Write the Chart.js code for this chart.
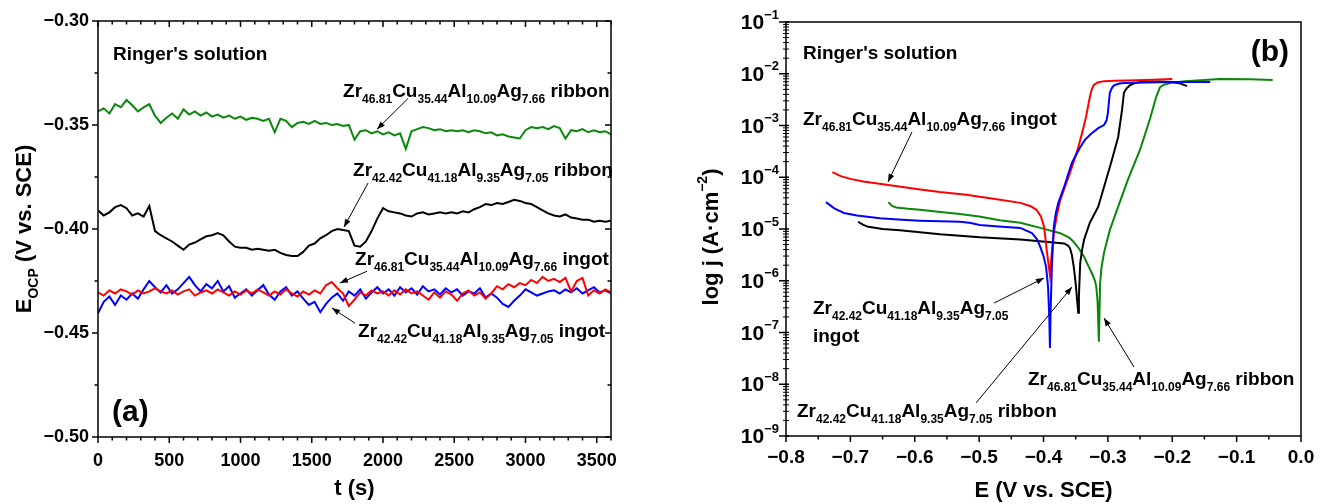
<!DOCTYPE html>
<html>
<head>
<meta charset="utf-8">
<script src="https://cdn.jsdelivr.net/npm/chart.js@4.4.1/dist/chart.umd.min.js"></script>
<style>
html, body { margin: 0; padding: 0; background: #fff; }
#wrap { position: relative; width: 1324px; height: 504px; overflow: hidden; }
canvas { position: absolute; top: 0; }
#ocp { left: 0; }
#pol { left: 662px; }
</style>
</head>
<body>
<div id="wrap">
  <canvas id="ocp" width="662" height="504"></canvas>
  <canvas id="pol" width="662" height="504"></canvas>
</div>
<script>
// ---- (a) open circuit potential vs time ----
var timeS = [0, 40, 80, 120, 160, 200, 240, 280, 320, 360,
  400, 440, 480, 520, 560, 600, 640, 680, 720, 760,
  800, 840, 880, 920, 960, 1000, 1040, 1080, 1120, 1160,
  1200, 1240, 1280, 1320, 1360, 1400, 1440, 1480, 1520, 1560,
  1600, 1640, 1680, 1720, 1760, 1800, 1840, 1880, 1920, 1960,
  2000, 2040, 2080, 2120, 2160, 2200, 2240, 2280, 2320, 2360,
  2400, 2440, 2480, 2520, 2560, 2600, 2640, 2680, 2720, 2760,
  2800, 2840, 2880, 2920, 2960, 3000, 3040, 3080, 3120, 3160,
  3200, 3240, 3280, 3320, 3360, 3400, 3440, 3480, 3520, 3560, 3600];

// Zr46.81Cu35.44Al10.09Ag7.66 ribbon (green)
var ocpRibbon1 = [-0.3435, -0.3420, -0.3445, -0.3400, -0.3415, -0.3380, -0.3405, -0.3435, -0.3415, -0.3400,
  -0.3455, -0.3490, -0.3465, -0.3445, -0.3470, -0.3425, -0.3450, -0.3435, -0.3455, -0.3440,
  -0.3460, -0.3450, -0.3465, -0.3455, -0.3470, -0.3460, -0.3475, -0.3465, -0.3470, -0.3480,
  -0.3470, -0.3535, -0.3470, -0.3480, -0.3510, -0.3490, -0.3485, -0.3495, -0.3480, -0.3495,
  -0.3490, -0.3500, -0.3495, -0.3505, -0.3500, -0.3570, -0.3530, -0.3525, -0.3540, -0.3530,
  -0.3545, -0.3535, -0.3550, -0.3540, -0.3615, -0.3530, -0.3520, -0.3510, -0.3515, -0.3525,
  -0.3520, -0.3530, -0.3525, -0.3530, -0.3525, -0.3535, -0.3525, -0.3530, -0.3540, -0.3535,
  -0.3550, -0.3545, -0.3555, -0.3560, -0.3565, -0.3525, -0.3510, -0.3515, -0.3510, -0.3520,
  -0.3505, -0.3515, -0.3565, -0.3525, -0.3530, -0.3520, -0.3535, -0.3525, -0.3535, -0.3530, -0.3545];

// Zr42.42Cu41.18Al9.35Ag7.05 ribbon (black)
var ocpRibbon2 = [-0.3910, -0.3935, -0.3920, -0.3895, -0.3885, -0.3900, -0.3935, -0.3925, -0.3940, -0.3890,
  -0.4010, -0.4030, -0.4045, -0.4060, -0.4080, -0.4100, -0.4075, -0.4065, -0.4050, -0.4035,
  -0.4030, -0.4020, -0.4030, -0.4060, -0.4085, -0.4090, -0.4090, -0.4100, -0.4095, -0.4100,
  -0.4105, -0.4100, -0.4115, -0.4125, -0.4130, -0.4130, -0.4110, -0.4080, -0.4070, -0.4045,
  -0.4030, -0.4010, -0.4000, -0.4005, -0.4010, -0.4080, -0.4085, -0.4060, -0.4010, -0.3950,
  -0.3900, -0.3915, -0.3920, -0.3925, -0.3935, -0.3940, -0.3925, -0.3920, -0.3930, -0.3925,
  -0.3920, -0.3925, -0.3920, -0.3925, -0.3915, -0.3920, -0.3905, -0.3895, -0.3880, -0.3885,
  -0.3875, -0.3880, -0.3870, -0.3860, -0.3865, -0.3875, -0.3880, -0.3895, -0.3910, -0.3925,
  -0.3935, -0.3940, -0.3930, -0.3945, -0.3950, -0.3955, -0.3955, -0.3965, -0.3960, -0.3965, -0.3960];

// Zr46.81Cu35.44Al10.09Ag7.66 ingot (red)
var ocpIngot1 = [-0.4305, -0.4320, -0.4295, -0.4310, -0.4290, -0.4300, -0.4315, -0.4295, -0.4310, -0.4300,
  -0.4285, -0.4300, -0.4310, -0.4295, -0.4315, -0.4300, -0.4290, -0.4320, -0.4305, -0.4295,
  -0.4310, -0.4290, -0.4305, -0.4320, -0.4300, -0.4315, -0.4295, -0.4310, -0.4290, -0.4305,
  -0.4320, -0.4300, -0.4315, -0.4290, -0.4310, -0.4325, -0.4300, -0.4315, -0.4295, -0.4310,
  -0.4270, -0.4255, -0.4285, -0.4310, -0.4370, -0.4340, -0.4305, -0.4320, -0.4295, -0.4310,
  -0.4300, -0.4320, -0.4295, -0.4315, -0.4290, -0.4310, -0.4300, -0.4320, -0.4340, -0.4305,
  -0.4330, -0.4300, -0.4315, -0.4345, -0.4310, -0.4295, -0.4320, -0.4305, -0.4335, -0.4310,
  -0.4275, -0.4290, -0.4265, -0.4280, -0.4260, -0.4270, -0.4245, -0.4260, -0.4230, -0.4250,
  -0.4240, -0.4255, -0.4235, -0.4300, -0.4250, -0.4235, -0.4320, -0.4295, -0.4310, -0.4290, -0.4305];

// Zr42.42Cu41.18Al9.35Ag7.05 ingot (blue)
var ocpIngot2 = [-0.4405, -0.4350, -0.4325, -0.4365, -0.4320, -0.4340, -0.4310, -0.4335, -0.4290, -0.4250,
  -0.4280, -0.4305, -0.4270, -0.4310, -0.4290, -0.4260, -0.4230, -0.4270, -0.4300, -0.4265,
  -0.4285, -0.4250, -0.4300, -0.4275, -0.4330, -0.4310, -0.4290, -0.4320, -0.4295, -0.4270,
  -0.4315, -0.4340, -0.4300, -0.4280, -0.4320, -0.4300, -0.4335, -0.4365, -0.4350, -0.4400,
  -0.4360, -0.4330, -0.4310, -0.4345, -0.4300, -0.4320, -0.4290, -0.4335, -0.4305, -0.4280,
  -0.4310, -0.4290, -0.4320, -0.4280, -0.4305, -0.4285, -0.4315, -0.4275, -0.4300, -0.4290,
  -0.4315, -0.4285, -0.4305, -0.4290, -0.4320, -0.4300, -0.4310, -0.4285, -0.4330, -0.4310,
  -0.4330, -0.4360, -0.4375, -0.4345, -0.4320, -0.4290, -0.4305, -0.4320, -0.4310, -0.4300,
  -0.4295, -0.4310, -0.4290, -0.4305, -0.4285, -0.4310, -0.4295, -0.4280, -0.4305, -0.4295, -0.4310];

var ocpXTicks = [0, 500, 1000, 1500, 2000, 2500, 3000, 3500];
var ocpYTicks = [-0.30, -0.35, -0.40, -0.45, -0.50];

// ---- (b) potentiodynamic polarization ----
var polE1 = [-0.728, -0.715, -0.700, -0.680, -0.641, -0.600, -0.561, -0.520, -0.499, -0.470, -0.436, -0.420, -0.411, -0.404, -0.399, -0.395, -0.392, -0.390, -0.388, -0.386, -0.384, -0.379, -0.374, -0.366, -0.359, -0.352, -0.346, -0.340, -0.334, -0.328, -0.325, -0.322, -0.316, -0.306, -0.290, -0.270, -0.240, -0.200];
var polJ1 = [1.26e-4, 1.05e-4, 9.3e-5, 8.3e-5, 7.1e-5, 6.0e-5, 5.2e-5, 4.6e-5, 4.2e-5, 3.7e-5, 3.2e-5, 2.75e-5, 2.35e-5, 1.74e-5, 1.10e-5, 3.9e-6, 2.0e-6, 1.26e-6, 2.5e-6, 5.0e-6, 8.3e-6, 1.9e-5, 3.6e-5, 6.9e-5, 1.2e-4, 2.2e-4, 3.8e-4, 7.2e-4, 1.45e-3, 3.55e-3, 5.0e-3, 6.0e-3, 6.8e-3, 7.2e-3, 7.3e-3, 7.4e-3, 7.6e-3, 7.9e-3];

var polE2 = [-0.738, -0.725, -0.710, -0.690, -0.654, -0.620, -0.592, -0.560, -0.530, -0.515, -0.499, -0.470, -0.436, -0.418, -0.410, -0.405, -0.400, -0.396, -0.393, -0.391, -0.390, -0.389, -0.387, -0.384, -0.381, -0.377, -0.368, -0.356, -0.343, -0.335, -0.325, -0.315, -0.306, -0.302, -0.300, -0.297, -0.293, -0.290, -0.282, -0.275, -0.240, -0.200, -0.141];
var polJ2 = [3.3e-5, 2.5e-5, 2.04e-5, 1.82e-5, 1.62e-5, 1.51e-5, 1.45e-5, 1.41e-5, 1.38e-5, 1.32e-5, 1.20e-5, 1.12e-5, 1.05e-5, 8.3e-6, 6.3e-6, 4.5e-6, 3.0e-6, 1.86e-6, 7.9e-7, 2.0e-7, 5.0e-8, 2.5e-7, 1.86e-6, 1.10e-5, 2.0e-5, 3.2e-5, 6.5e-5, 1.9e-4, 3.8e-4, 5.4e-4, 7.1e-4, 8.9e-4, 1.02e-3, 1.26e-3, 1.74e-3, 4.3e-3, 5.5e-3, 6.0e-3, 6.5e-3, 6.6e-3, 6.8e-3, 6.9e-3, 6.9e-3];

var polE3 = [-0.688, -0.680, -0.672, -0.650, -0.623, -0.561, -0.499, -0.436, -0.393, -0.368, -0.362, -0.359, -0.356, -0.353, -0.350, -0.348, -0.346, -0.345, -0.343, -0.340, -0.337, -0.328, -0.315, -0.306, -0.294, -0.284, -0.278, -0.275, -0.271, -0.266, -0.258, -0.250, -0.220, -0.200, -0.188, -0.177];
var polJ3 = [1.38e-5, 1.20e-5, 1.10e-5, 1.0e-5, 9.5e-6, 7.9e-6, 6.9e-6, 6.3e-6, 5.6e-6, 5.25e-6, 4.8e-6, 4.3e-6, 3.2e-6, 1.86e-6, 8.9e-7, 4.5e-7, 2.4e-7, 5.0e-7, 2.2e-6, 4.0e-6, 6.2e-6, 1.32e-5, 2.7e-5, 6.5e-5, 2.1e-4, 6.0e-4, 2.0e-3, 4.3e-3, 5.2e-3, 6.0e-3, 6.6e-3, 6.9e-3, 7.1e-3, 6.9e-3, 6.5e-3, 5.75e-3];

var polE4 = [-0.641, -0.635, -0.629, -0.610, -0.592, -0.560, -0.530, -0.500, -0.468, -0.436, -0.405, -0.374, -0.360, -0.353, -0.345, -0.337, -0.330, -0.325, -0.320, -0.318, -0.316, -0.314, -0.313, -0.312, -0.310, -0.306, -0.297, -0.284, -0.269, -0.250, -0.235, -0.225, -0.219, -0.212, -0.203, -0.180, -0.126, -0.080, -0.044];
var polJ4 = [3.3e-5, 2.8e-5, 2.6e-5, 2.45e-5, 2.35e-5, 2.14e-5, 1.95e-5, 1.74e-5, 1.48e-5, 1.32e-5, 1.05e-5, 8.3e-6, 6.8e-6, 5.6e-6, 4.2e-6, 2.9e-6, 1.9e-6, 1.41e-6, 1.0e-6, 7.6e-7, 4.0e-7, 6.6e-8, 2.5e-7, 9.1e-7, 1.78e-6, 3.5e-6, 9.5e-6, 2.7e-5, 8.9e-5, 3.4e-4, 1.29e-3, 3.55e-3, 5.5e-3, 6.2e-3, 6.6e-3, 7.2e-3, 7.9e-3, 7.8e-3, 7.6e-3];

var polXTicks = [-0.8, -0.7, -0.6, -0.5, -0.4, -0.3, -0.2, -0.1, 0.0];
var polYExp = [-1, -2, -3, -4, -5, -6, -7, -8, -9];

// labels + arrows, positioned in data units
var ocpNotes = [
  { text: 'Zr_{46.81}Cu_{35.44}Al_{10.09}Ag_{7.66} ribbon', at: [1720, -0.3366], from: [2176, -0.3372], to: [1958, -0.3520] },
  { text: 'Zr_{42.42}Cu_{41.18}Al_{9.35}Ag_{7.05} ribbon', at: [1790, -0.3746], from: [1895, -0.3779], to: [1726, -0.3991] },
  { text: 'Zr_{46.81}Cu_{35.44}Al_{10.09}Ag_{7.66} ingot', at: [1804, -0.4174], from: [1888, -0.4203], to: [1698, -0.4260] },
  { text: 'Zr_{42.42}Cu_{41.18}Al_{9.35}Ag_{7.05} ingot', at: [1825, -0.4520], from: [1804, -0.4453], to: [1642, -0.4380] }
];
var polNotes = [
  { text: 'Zr_{46.81}Cu_{35.44}Al_{10.09}Ag_{7.66} ingot', at: [-0.7736, 1.02e-3], from: [-0.6043, 7.5e-4], to: [-0.6416, 8.1e-5] },
  { text: 'Zr_{42.42}Cu_{41.18}Al_{9.35}Ag_{7.05}', at: [-0.7581, 2.28e-7], from: [-0.4769, 3.7e-7], to: [-0.3992, 1.13e-6] },
  { text: 'ingot', at: [-0.7581, 6.5e-8] },
  { text: 'Zr_{42.42}Cu_{41.18}Al_{9.35}Ag_{7.05} ribbon', at: [-0.7829, 2.33e-9], from: [-0.5048, 4.35e-9], to: [-0.3557, 7.6e-7] },
  { text: 'Zr_{46.81}Cu_{35.44}Al_{10.09}Ag_{7.66} ribbon', at: [-0.4241, 9.7e-9], from: [-0.2594, 2.15e-8], to: [-0.3060, 1.9e-7] }
];

var FONT = '"Liberation Sans", Arial, Helvetica, sans-serif';
var GREEN = '#0b870b', BLACK = '#000000', RED = '#ff0000', BLUE = '#0000ff';

function parseRich(s) {
  var out = [], re = /_\{([^}]*)\}|\^\{([^}]*)\}|[^_^]+/g, m;
  while ((m = re.exec(s))) {
    if (m[1] !== undefined) out.push([m[1], 1]);
    else if (m[2] !== undefined) out.push([m[2], 2]);
    else out.push([m[0], 0]);
  }
  return out;
}

// draw text with subscripts (_{}) and superscripts (^{})
function drawRich(ctx, s, x, y, size, small, align) {
  var segs = parseRich(s), w = 0;
  segs.forEach(function (g) {
    ctx.font = 'bold ' + (g[1] ? small : size) + 'px ' + FONT;
    w += ctx.measureText(g[0]).width;
  });
  if (align === 'center') x -= w / 2;
  else if (align === 'right') x -= w;
  ctx.textAlign = 'left';
  ctx.textBaseline = 'alphabetic';
  segs.forEach(function (g) {
    ctx.font = 'bold ' + (g[1] ? small : size) + 'px ' + FONT;
    var dy = g[1] === 1 ? size * 0.33 : (g[1] === 2 ? -size * 0.5 : 0);
    ctx.fillText(g[0], x, y + dy);
    x += ctx.measureText(g[0]).width;
  });
}

function seg(ctx, x1, y1, x2, y2) {
  ctx.beginPath(); ctx.moveTo(x1, y1); ctx.lineTo(x2, y2); ctx.stroke();
}

function arrow(ctx, x1, y1, x2, y2) {
  ctx.lineWidth = 1;
  seg(ctx, x1, y1, x2, y2);
  var a = Math.atan2(y2 - y1, x2 - x1), L = 8, W = 3;
  ctx.beginPath();
  ctx.moveTo(x2, y2);
  ctx.lineTo(x2 - L * Math.cos(a) + W * Math.sin(a), y2 - L * Math.sin(a) - W * Math.cos(a));
  ctx.lineTo(x2 - L * Math.cos(a) - W * Math.sin(a), y2 - L * Math.sin(a) + W * Math.cos(a));
  ctx.closePath();
  ctx.fill();
}

function drawNotes(chart, notes) {
  var ctx = chart.ctx, xs = chart.scales.x, ys = chart.scales.y;
  notes.forEach(function (n) {
    drawRich(ctx, n.text, xs.getPixelForValue(n.at[0]), ys.getPixelForValue(n.at[1]), 19, 12, 'left');
    if (n.from) {
      arrow(ctx, xs.getPixelForValue(n.from[0]), ys.getPixelForValue(n.from[1]),
        xs.getPixelForValue(n.to[0]), ys.getPixelForValue(n.to[1]));
    }
  });
}

function line(xs, ys, color) {
  return {
    data: xs.map(function (x, i) { return { x: x, y: ys[i] }; }),
    borderColor: color, borderWidth: 2, pointRadius: 0, fill: false, tension: 0
  };
}

function minus(s) { return s.replace('-', '\u2212'); }

var ocpDecor = {
  id: 'ocpDecor',
  afterDraw: function (chart) {
    var ctx = chart.ctx, a = chart.chartArea, xs = chart.scales.x, ys = chart.scales.y;
    ctx.save();
    ctx.strokeStyle = '#000'; ctx.fillStyle = '#000';
    ctx.lineWidth = 1.5;
    ctx.strokeRect(a.left, a.top, a.right - a.left, a.bottom - a.top);
    var t, v, px, L;
    for (t = 0; t <= 3600; t += 100) {
      px = xs.getPixelForValue(t);
      L = (t % 500 === 0) ? 6 : 3.5;
      seg(ctx, px, a.bottom, px, a.bottom + L);
      seg(ctx, px, a.top, px, a.top + L);
    }
    for (v = 0; v <= 8; v++) {
      px = ys.getPixelForValue(-0.30 - v * 0.025);
      L = (v % 2 === 0) ? 6 : 3.5;
      seg(ctx, a.left - L, px, a.left, px);
      seg(ctx, a.right - L, px, a.right, px);
    }
    ctx.font = 'bold 18px ' + FONT;
    ctx.textAlign = 'right'; ctx.textBaseline = 'middle';
    ocpYTicks.forEach(function (v) {
      ctx.fillText(minus(v.toFixed(2)), a.left - 9, ys.getPixelForValue(v));
    });
    ctx.textAlign = 'center';
    ocpXTicks.forEach(function (t) {
      ctx.fillText(String(t), xs.getPixelForValue(t), a.bottom + 24);
    });
    ctx.font = 'bold 22px ' + FONT;
    ctx.textBaseline = 'alphabetic';
    ctx.fillText('t (s)', (a.left + a.right) / 2, 495);
    ctx.save();
    ctx.translate(31, (a.top + a.bottom) / 2);
    ctx.rotate(-Math.PI / 2);
    drawRich(ctx, 'E_{OCP} (V vs. SCE)', 0, 0, 22, 14, 'center');
    ctx.restore();
    drawRich(ctx, "Ringer's solution", a.left + 15, 60, 19, 12, 'left');
    ctx.font = 'bold 30px ' + FONT;
    ctx.textAlign = 'left';
    ctx.fillText('(a)', a.left + 14, 421);
    drawNotes(chart, ocpNotes);
    ctx.restore();
  }
};

var polDecor = {
  id: 'polDecor',
  afterDraw: function (chart) {
    var ctx = chart.ctx, a = chart.chartArea, xs = chart.scales.x, ys = chart.scales.y;
    ctx.save();
    ctx.strokeStyle = '#000'; ctx.fillStyle = '#000';
    ctx.lineWidth = 1.5;
    ctx.strokeRect(a.left, a.top, a.right - a.left, a.bottom - a.top);
    ctx.lineWidth = 1;
    var e, d, k, py, px;
    for (d = -9; d < -1; d++) {
      for (k = 2; k <= 9; k++) {
        py = ys.getPixelForValue(k * Math.pow(10, d));
        seg(ctx, a.left - 3, py, a.left + 3, py);
      }
    }
    ctx.lineWidth = 1.5;
    polYExp.forEach(function (d) {
      py = ys.getPixelForValue(Math.pow(10, d));
      seg(ctx, a.left - 7, py, a.left + 3, py);
      drawRich(ctx, '10^{\u2212' + (-d) + '}', a.left - 7, py + 7, 21, 13, 'right');
    });
    for (e = 0; e <= 16; e++) {
      px = xs.getPixelForValue(-0.8 + e * 0.05);
      seg(ctx, px, a.bottom, px, a.bottom + (e % 2 === 0 ? 6 : 3.5));
    }
    ctx.font = 'bold 19px ' + FONT;
    ctx.textAlign = 'center'; ctx.textBaseline = 'middle';
    polXTicks.forEach(function (v) {
      ctx.fillText(minus(v.toFixed(1)), xs.getPixelForValue(v), a.bottom + 22);
    });
    ctx.font = 'bold 22px ' + FONT;
    ctx.textBaseline = 'alphabetic';
    ctx.fillText('E (V vs. SCE)', (a.left + a.right) / 2, 497);
    ctx.save();
    ctx.translate(56, (a.top + a.bottom) / 2 + 8);
    ctx.rotate(-Math.PI / 2);
    drawRich(ctx, 'log j (A\u00b7cm^{\u22122})', 0, 0, 22, 14, 'center');
    ctx.restore();
    drawRich(ctx, "Ringer's solution", a.left + 17, 59, 19, 12, 'left');
    ctx.font = 'bold 30px ' + FONT;
    ctx.textAlign = 'right';
    ctx.fillText('(b)', a.right - 12, 61);
    drawNotes(chart, polNotes);
    ctx.restore();
  }
};

function hiddenScales(xMin, xMax, yType, yMin, yMax) {
  return {
    x: { type: 'linear', min: xMin, max: xMax, display: false },
    y: { type: yType, min: yMin, max: yMax, display: false }
  };
}

new Chart(document.getElementById('ocp'), {
  type: 'line',
  data: {
    datasets: [
      line(timeS, ocpIngot1, RED),
      line(timeS, ocpIngot2, BLUE),
      line(timeS, ocpRibbon2, BLACK),
      line(timeS, ocpRibbon1, GREEN)
    ]
  },
  options: {
    responsive: false, animation: false, events: [],
    layout: { padding: { left: 98, right: 51, top: 21, bottom: 67 } },
    plugins: { legend: { display: false }, tooltip: { enabled: false } },
    scales: hiddenScales(0, 3600, 'linear', -0.5, -0.3)
  },
  plugins: [ocpDecor]
});

new Chart(document.getElementById('pol'), {
  type: 'line',
  data: {
    datasets: [
      line(polE2, polJ2, BLUE),
      line(polE1, polJ1, RED),
      line(polE3, polJ3, BLACK),
      line(polE4, polJ4, GREEN)
    ]
  },
  options: {
    responsive: false, animation: false, events: [],
    layout: { padding: { left: 124, right: 23, top: 22, bottom: 68 } },
    plugins: { legend: { display: false }, tooltip: { enabled: false } },
    scales: hiddenScales(-0.8, 0, 'logarithmic', 1e-9, 1e-1)
  },
  plugins: [polDecor]
});
</script>
</body>
</html>
